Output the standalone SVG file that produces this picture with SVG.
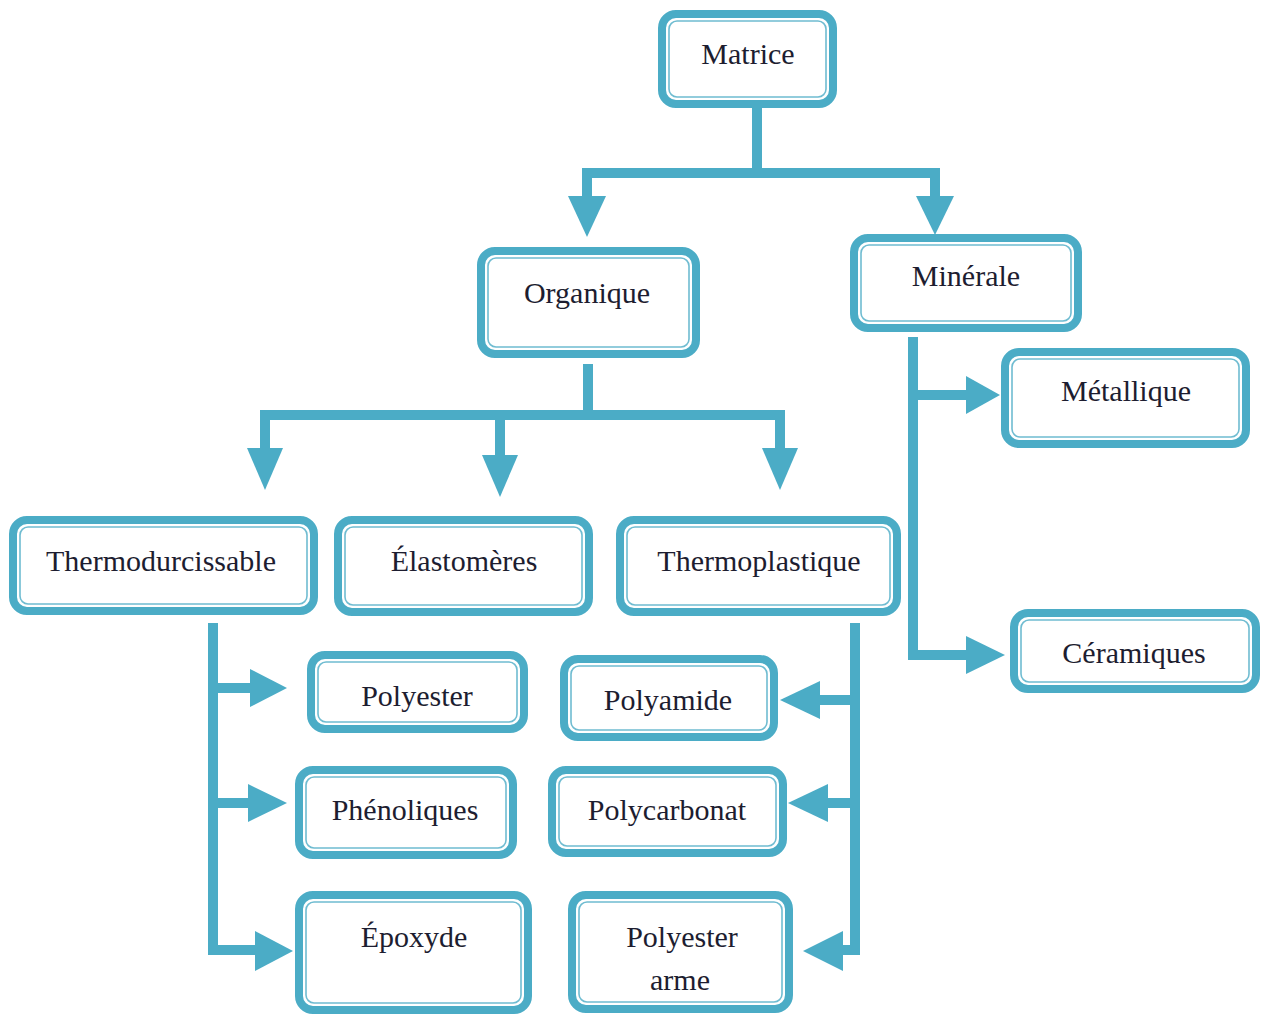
<svg xmlns="http://www.w3.org/2000/svg" width="1261" height="1014" viewBox="0 0 1261 1014">
<style>
.o{fill:#fff;stroke:#4BACC6;stroke-width:8}
.i{fill:none;stroke:#6fbcd1;stroke-width:1.6}
.t{font-family:"Liberation Serif","Times New Roman",serif;font-size:30px;fill:#1d1d30;text-anchor:middle}
.c{fill:none;stroke:#4BACC6;stroke-width:10;stroke-linejoin:miter}
.a{fill:#4BACC6}
</style>
<rect width="1261" height="1014" fill="#fff"/>
<g id="connectors">
<path class="c" d="M757,107 V173 M582,173 H938 M587,168 V198 M935,168 V198"/>
<polygon class="a" points="568,196 606,196 587,237"/>
<polygon class="a" points="916,196 954,196 935,235"/>
<path class="c" d="M588,364 V415 M260,415 H785 M265,410 V450 M500,410 V457 M780,410 V450"/>
<polygon class="a" points="247,448 283,448 265,490"/>
<polygon class="a" points="482,455 518,455 500,497"/>
<polygon class="a" points="762,448 798,448 780,490"/>
<path class="c" d="M913,337 V657 M908,395 H968 M908,655 H968"/>
<polygon class="a" points="966,376 966,414 1000,395"/>
<polygon class="a" points="966,636 966,674 1005,655"/>
<path class="c" d="M213,623 V950 M208,688 H252 M208,803 H252 M208,950 H258"/>
<polygon class="a" points="250,669 250,707 287,688"/>
<polygon class="a" points="248,784 248,822 287,803"/>
<polygon class="a" points="255,931 255,971 293,951"/>
<path class="c" d="M855,623 V950 M860,700 H818 M860,803 H826 M860,950 H841"/>
<polygon class="a" points="820,681 820,719 780,700"/>
<polygon class="a" points="828,784 828,822 788,803"/>
<polygon class="a" points="843,931 843,971 803,951"/>
</g>
<g id="matrice"><rect class="o" x="662" y="14" width="171" height="90" rx="14"/><rect class="i" x="669" y="21" width="157" height="76" rx="8"/><text class="t" x="748" y="64">Matrice</text></g>
<g id="organique"><rect class="o" x="481" y="251" width="215" height="103" rx="14"/><rect class="i" x="488" y="258" width="201" height="89" rx="8"/><text class="t" x="587" y="303">Organique</text></g>
<g id="minerale"><rect class="o" x="854" y="238" width="224" height="90" rx="14"/><rect class="i" x="861" y="245" width="210" height="76" rx="8"/><text class="t" x="966" y="286">Minérale</text></g>
<g id="metallique"><rect class="o" x="1005" y="352" width="241" height="92" rx="14"/><rect class="i" x="1012" y="359" width="227" height="78" rx="8"/><text class="t" x="1126" y="401">Métallique</text></g>
<g id="ceramiques"><rect class="o" x="1014" y="613" width="242" height="76" rx="14"/><rect class="i" x="1021" y="620" width="228" height="62" rx="8"/><text class="t" x="1134" y="663">Céramiques</text></g>
<g id="thermodurcissable"><rect class="o" x="13" y="520" width="301" height="91" rx="14"/><rect class="i" x="20" y="527" width="287" height="77" rx="8"/><text class="t" x="161" y="571">Thermodurcissable</text></g>
<g id="elastomeres"><rect class="o" x="338" y="520" width="251" height="92" rx="14"/><rect class="i" x="345" y="527" width="237" height="78" rx="8"/><text class="t" x="464" y="571">Élastomères</text></g>
<g id="thermoplastique"><rect class="o" x="620" y="520" width="277" height="92" rx="14"/><rect class="i" x="627" y="527" width="263" height="78" rx="8"/><text class="t" x="759" y="571">Thermoplastique</text></g>
<g id="polyester"><rect class="o" x="311" y="655" width="213" height="74" rx="14"/><rect class="i" x="318" y="662" width="199" height="60" rx="8"/><text class="t" x="417" y="706">Polyester</text></g>
<g id="phenoliques"><rect class="o" x="299" y="770" width="214" height="85" rx="14"/><rect class="i" x="306" y="777" width="200" height="71" rx="8"/><text class="t" x="405" y="820">Phénoliques</text></g>
<g id="epoxyde"><rect class="o" x="299" y="895" width="229" height="115" rx="14"/><rect class="i" x="306" y="902" width="215" height="101" rx="8"/><text class="t" x="414" y="947">Époxyde</text></g>
<g id="polyamide"><rect class="o" x="564" y="659" width="210" height="78" rx="14"/><rect class="i" x="571" y="666" width="196" height="64" rx="8"/><text class="t" x="668" y="710">Polyamide</text></g>
<g id="polycarbonat"><rect class="o" x="552" y="770" width="231" height="83" rx="14"/><rect class="i" x="559" y="777" width="217" height="69" rx="8"/><text class="t" x="667" y="820">Polycarbonat</text></g>
<g id="polyester-arme"><rect class="o" x="572" y="895" width="217" height="114" rx="14"/><rect class="i" x="579" y="902" width="203" height="100" rx="8"/><text class="t" x="682" y="947">Polyester</text><text class="t" x="680" y="990">arme</text></g>
</svg>
